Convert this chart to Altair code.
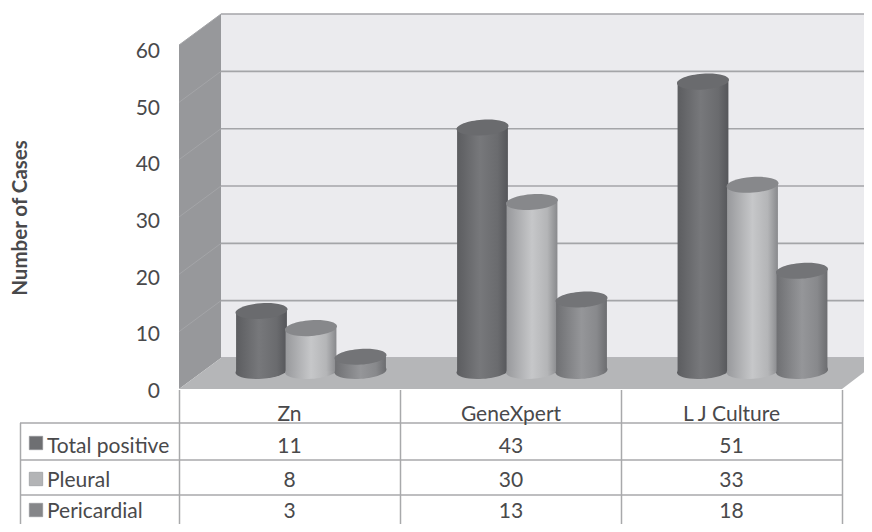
import altair as alt
import pandas as pd

categories = ["Zn", "GeneXpert", "L J Culture"]
series = ["Total positive", "Pleural", "Pericardial"]
total_positive = [11, 43, 51]
pleural = [8, 30, 33]
pericardial = [3, 13, 18]
axis_ticks = [0, 10, 20, 30, 40, 50, 60]

W, H = 856, 516
PX_X, PX_Y = 221.0, 5.733      # pixels per category, pixels per case
ORIGIN_X, ORIGIN_Y = 179.0, 358.0


def ux(px):
    return (px - ORIGIN_X) / PX_X


def uy(py):
    return (ORIGIN_Y - py) / PX_Y


xs = alt.Scale(domain=[ux(8), ux(8 + W)], range=[0, W], nice=False, zero=False)
ys = alt.Scale(domain=[uy(8 + H), uy(8)], range=[H, 0], nice=False, zero=False)
X = lambda f: alt.X(f"{f}:Q", scale=xs, axis=None)
Y = lambda f: alt.Y(f"{f}:Q", scale=ys, axis=None)
FONT = "Lato"
TXT = "#49494b"
LINE = "#a8a9ab"

layers = []

# back wall
layers.append(
    alt.Chart(pd.DataFrame({"a": [ux(221)], "b": [ux(900)], "c": [0], "d": [60]}))
    .mark_rect(fill="#ebebee", clip=True)
    .encode(x=X("a"), x2="b:Q", y=Y("c"), y2="d:Q")
)
# side wall
depth = uy(389)
side = pd.DataFrame(
    {"x": [ux(179), ux(221)], "top": [60 + depth, 60], "bot": [depth, 0]}
)
layers.append(
    alt.Chart(side).mark_area(fill="#97989b").encode(x=X("x"), y=Y("top"), y2="bot:Q")
)
# gridlines on the back wall and along the side wall
grid = pd.DataFrame({"v": axis_ticks, "a": ux(221), "b": ux(900)})
layers.append(
    alt.Chart(grid)
    .mark_rule(color="#a4a5a8", strokeWidth=1.6, clip=True)
    .encode(x=X("a"), x2="b:Q", y=Y("v"))
)
side_rows = []
for t in axis_ticks[1:]:
    side_rows.append({"t": t, "x": ux(179), "y": t + depth})
    side_rows.append({"t": t, "x": ux(221), "y": t})
layers.append(
    alt.Chart(pd.DataFrame(side_rows))
    .mark_line(color="#a4a5a8", strokeWidth=1)
    .encode(x=X("x"), y=Y("y"), detail="t:N")
)
# floor
floor = pd.DataFrame(
    {"y": [depth, 0], "x1": [ux(179), ux(221)], "x2": [ux(842), ux(883)]}
)
layers.append(
    alt.Chart(floor)
    .mark_area(orient="horizontal", fill="#b5b6b8", clip=True)
    .encode(y=Y("y"), x=X("x1"), x2="x2:Q")
)

# cylinders
def grad(stops):
    return alt.LinearGradient(
        gradient="linear", x1=0, x2=1, y1=0, y2=0,
        stops=[alt.GradientStop(color=c, offset=o) for o, c in stops],
    )


styles = [
    (total_positive, -0.224,
     grad([(0, "#5c5d60"), (0.45, "#77787b"), (0.8, "#6a6b6e"), (1, "#55565a")]), "#6a6b6e"),
    (pleural, 0.0,
     grad([(0, "#98999c"), (0.5, "#c6c7c9"), (0.8, "#b4b5b7"), (1, "#88898c")]), "#87888b"),
    (pericardial, 0.224,
     grad([(0, "#6f7073"), (0.5, "#959699"), (0.8, "#88898c"), (1, "#6c6d70")]), "#737477"),
]
ELLIPSE = "M-1,0.07A1,0.3,-4,1,1,1,-0.07A1,0.3,-4,1,1,-1,0.07Z"
base_top = uy(374)
base_bot = uy(371)
half = 0.115
centers = [ux(311), ux(532), ux(752.5)]
for vals, off, g, top_col in styles:
    df = pd.DataFrame(
        {
            "cat": categories,
            "value": vals,
            "x": [c + off for c in centers],
            "x0": [c + off - half for c in centers],
            "x1": [c + off + half for c in centers],
        }
    )
    df["top"] = df["value"] + base_top
    df["bot"] = base_bot
    layers.append(
        alt.Chart(df)
        .mark_point(shape=ELLIPSE, size=2704, filled=True, fill=g, opacity=1, strokeWidth=0)
        .encode(x=X("x"), y=Y("bot"))
    )
    layers.append(
        alt.Chart(df).mark_rect(fill=g).encode(x=X("x0"), x2="x1:Q", y=Y("top"), y2="bot:Q")
    )
    layers.append(
        alt.Chart(df)
        .mark_point(shape=ELLIPSE, size=2704, filled=True, fill=top_col, opacity=1, strokeWidth=0)
        .encode(x=X("x"), y=Y("top"))
    )

# table lines
vlines = pd.DataFrame(
    {
        "x": [ux(179.5), ux(400.5), ux(621.5), ux(842.5), ux(20.5)],
        "a": [uy(390)] * 4 + [uy(423)],
        "b": [uy(524)] * 5,
    }
)
layers.append(
    alt.Chart(vlines).mark_rule(color=LINE, strokeWidth=1.5).encode(x=X("x"), y=Y("a"), y2="b:Q")
)
hlines = pd.DataFrame(
    {"y": [uy(423), uy(460), uy(495)], "a": ux(20), "b": ux(843)}
)
layers.append(
    alt.Chart(hlines).mark_rule(color=LINE, strokeWidth=1.5).encode(y=Y("y"), x=X("a"), x2="b:Q")
)

# table text (last row sits a little higher so it stays inside the picture)
rows = [
    (total_positive, uy(446.5), "#6e6f72", uy(443)),
    (pleural, uy(481), "#b3b4b6", uy(479)),
    (pericardial, uy(512), "#858689", uy(510)),
]
cell_x = [ux(289.5), ux(511), ux(731.5)]
label_rows, cell_rows, swatch_rows = [], [], []
for name, (vals, y, col, sy) in zip(series, rows):
    label_rows.append({"t": name, "x": ux(47), "y": y})
    swatch_rows.append({"x": ux(36), "y": sy, "c": col})
    for cx, v in zip(cell_x, vals):
        cell_rows.append({"t": str(v), "x": cx, "y": y})
for cx, c in zip(cell_x, categories):
    cell_rows.append({"t": c, "x": cx, "y": uy(414.5)})

layers.append(
    alt.Chart(pd.DataFrame(cell_rows))
    .mark_text(font=FONT, fontSize=21, color=TXT, align="center", baseline="middle")
    .encode(x=X("x"), y=Y("y"), text="t:N")
)
layers.append(
    alt.Chart(pd.DataFrame(label_rows))
    .mark_text(font=FONT, fontSize=21, color=TXT, align="left", baseline="middle")
    .encode(x=X("x"), y=Y("y"), text="t:N")
)
layers.append(
    alt.Chart(pd.DataFrame(swatch_rows))
    .mark_point(shape="square", size=180, filled=True, opacity=1, stroke="#8f9093", strokeWidth=0.6)
    .encode(x=X("x"), y=Y("y"), fill=alt.Fill("c:N", scale=None))
)

# axis labels
tick_df = pd.DataFrame(
    {"t": [str(v) for v in axis_ticks], "x": ux(160), "y": [uy(392 - v * 5.667) for v in axis_ticks]}
)
layers.append(
    alt.Chart(tick_df)
    .mark_text(font=FONT, fontSize=21, color=TXT, align="right", baseline="middle")
    .encode(x=X("x"), y=Y("y"), text="t:N")
)
layers.append(
    alt.Chart(pd.DataFrame({"t": ["Number of Cases"], "x": [ux(20.5)], "y": [uy(218)]}))
    .mark_text(font=FONT, fontSize=20.5, fontWeight="bold", color=TXT, angle=270, align="center", baseline="middle")
    .encode(x=X("x"), y=Y("y"), text="t:N")
)

chart = (
    alt.layer(*layers)
    .properties(width=W, height=H, padding=0, autosize=alt.AutoSizeParams(type="none"), background="white")
    .configure_view(stroke=None)
)
chart.save("out.html", embed_options={"renderer": "svg", "actions": False})
